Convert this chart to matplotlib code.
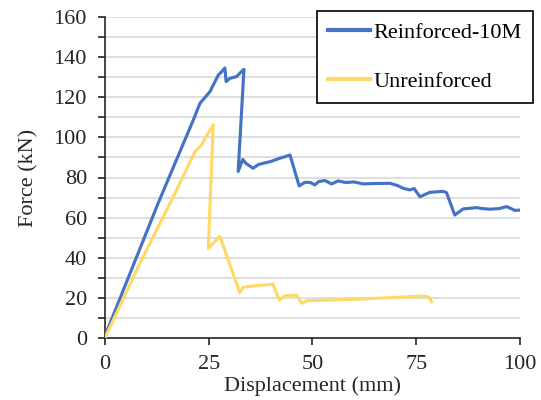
import numpy as np
import matplotlib.pyplot as plt
from matplotlib.ticker import MultipleLocator

FONTSIZE = 16

# Reinforced-10M specimen (displacement mm, force kN)
reinf_x = [0, 6, 12.8, 21.3, 22.9, 25.3, 27.3, 28.1, 28.9, 29.2, 30.1, 31.7,
           32.9, 33.5, 32.1, 33.2, 34.0, 35.7, 37.0, 40.0, 42.0, 44.6, 46.8, 48.2,
           49.5, 50.6, 51.5, 53.0, 54.6, 56.2, 58.0, 60.0, 62.2, 65.0, 68.7, 70.5,
           71.9, 73.5, 74.5, 75.9, 78.3, 81.5, 82.3, 84.3, 86.3, 89.5, 91.0, 92.8,
           95.0, 96.8, 98.8, 100.4]
reinf_y = [1, 32, 67.1, 108.7, 117, 122.8, 131, 132.7, 134.6, 127.8, 129.4, 130.3,
           132.8, 133.9, 83, 89, 87, 84.6, 86.5, 88, 89.5, 91.2, 75.8, 77.6,
           77.5, 76.3, 78, 78.5, 76.8, 78.3, 77.5, 77.8, 76.8, 77, 77.1, 76,
           74.6, 73.8, 74.5, 70.4, 72.6, 73.1, 72.5, 61.3, 64.3, 65, 64.5, 64.2,
           64.5, 65.5, 63.6, 63.8]

# Unreinforced specimen
unreinf_x = [0, 8.0, 16.1, 21.7, 23.3, 24.1, 26.1, 24.9, 27.7, 32.5, 33.3, 36.0,
             40.5, 42.0, 43.4, 46.2, 47.4, 48.6, 54.2, 64.7, 76.7, 78.1, 78.7]
unreinf_y = [0, 35.5, 68.8, 92.9, 96.2, 99.5, 106.2, 44.7, 50.7, 22.6, 25.3, 26,
             26.8, 19, 21, 21.4, 17.3, 18.6, 18.9, 19.7, 20.9, 20.3, 18.1]

plt.rcParams['font.family'] = ['Liberation Serif', 'DejaVu Serif']

fig = plt.figure(figsize=(5.41, 4.0), dpi=100)
ax = fig.add_axes([0.194, 0.155, 0.767, 0.8025])

ax.plot(reinf_x, reinf_y, color='#4472C4', lw=2.25, label='Reinforced-10M', zorder=3)
ax.plot(unreinf_x, unreinf_y, color='#FFD966', lw=2.25, label='Unreinforced', zorder=3)

ax.set_xlim(0, 100)
ax.set_ylim(0, 160)
ax.xaxis.set_major_locator(MultipleLocator(25))
ax.yaxis.set_major_locator(MultipleLocator(20))
ax.yaxis.set_minor_locator(MultipleLocator(10))
ax.grid(True, axis='y', which='both', color='#D9D9D9', lw=1.2, zorder=0)
ax.set_axisbelow(True)

for s in ['top', 'right']:
    ax.spines[s].set_visible(False)
for s in ['left', 'bottom']:
    ax.spines[s].set_color('#262626')
    ax.spines[s].set_linewidth(1.2)

ax.tick_params(axis='both', which='major', labelsize=FONTSIZE, length=5, width=1.2,
               colors='#262626', direction='out')
ax.tick_params(axis='x', which='major', pad=7)
ax.tick_params(axis='y', which='major', pad=8)
ax.tick_params(axis='y', which='minor', length=5, width=1.2, colors='#262626')
ax.set_xlabel('Displacement (mm)', fontsize=FONTSIZE, color='#262626', labelpad=2)
ax.set_ylabel('Force (kN)', fontsize=FONTSIZE, color='#262626', labelpad=11)

leg = ax.legend(loc='upper right', bbox_to_anchor=(0.985, 0.9725),
                bbox_transform=fig.transFigure, fontsize=FONTSIZE, frameon=True,
                fancybox=False, edgecolor='black', framealpha=1.0,
                handlelength=1.9, handletextpad=0.15, labelspacing=1.28,
                borderpad=0.5, borderaxespad=0)
leg.get_frame().set_linewidth(1.2)
for line in leg.get_lines():
    line.set_linewidth(3.0)

plt.savefig('out.png', dpi=100)
